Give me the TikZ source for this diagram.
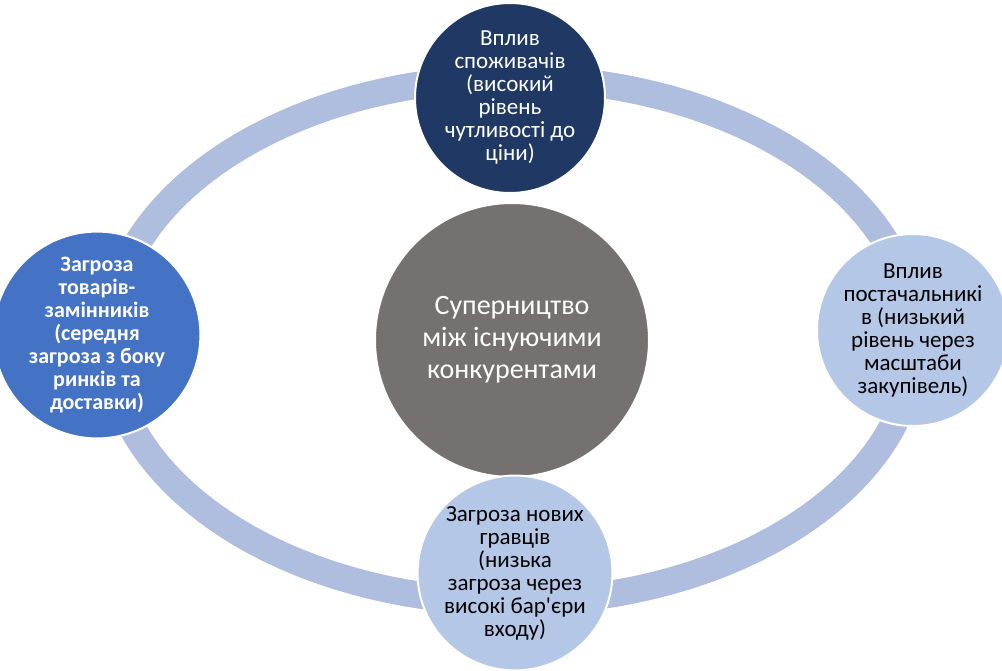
\documentclass[tikz,border=0pt]{standalone}
\usepackage{fontspec}
\setmainfont{Carlito}
\definecolor{ringblue}{RGB}{175,189,222}
\definecolor{navy}{RGB}{32,56,100}
\definecolor{midblue}{RGB}{68,114,196}
\definecolor{paleblue}{RGB}{180,199,231}
\definecolor{rivalgrey}{RGB}{118,113,113}
\begin{document}
\begin{tikzpicture}
			[x=1pt,y=-1pt,
			force/.style={circle,draw=white,line width=2pt,minimum size=190pt,inner sep=0pt,align=center,font=\fontsize{23}{23}\selectfont},
			ring/.style={draw=ringblue,line width=27pt}]
			\useasboundingbox (0,0) rectangle (1002,670);
			\draw[ring] (512,340) ellipse [x radius=403,y radius=262];
			\node[force,name=rival,fill=rivalgrey,text=white,minimum size=274pt,font=\fontsize{28}{32}\selectfont] at (512,340) {Суперництво\\між існуючими\\конкурентами};
			\node[force,name=buyers,fill=navy,text=white] at (510,98) {Вплив\\споживачів\\(високий\\рівень\\чутливості до\\ціни)};
			\node[force,name=suppliers,fill=paleblue,minimum size=180pt] at (913,330) {Вплив\\постачальникі\\в (низький\\рівень через\\масштаби\\закупівель)};
			\node[force,name=entrants,fill=paleblue] at (515,573) {Загроза нових\\гравців\\(низька\\загроза через\\високі бар\textquotesingle єри\\входу)};
			\node[force,name=substitutes,fill=midblue,text=white,font=\fontsize{22}{23}\selectfont\bfseries] at (97,335) {Загроза\\товарів-\\замінників\\(середня\\загроза з боку\\ринків та\\доставки)};
		\end{tikzpicture}
\end{document}
